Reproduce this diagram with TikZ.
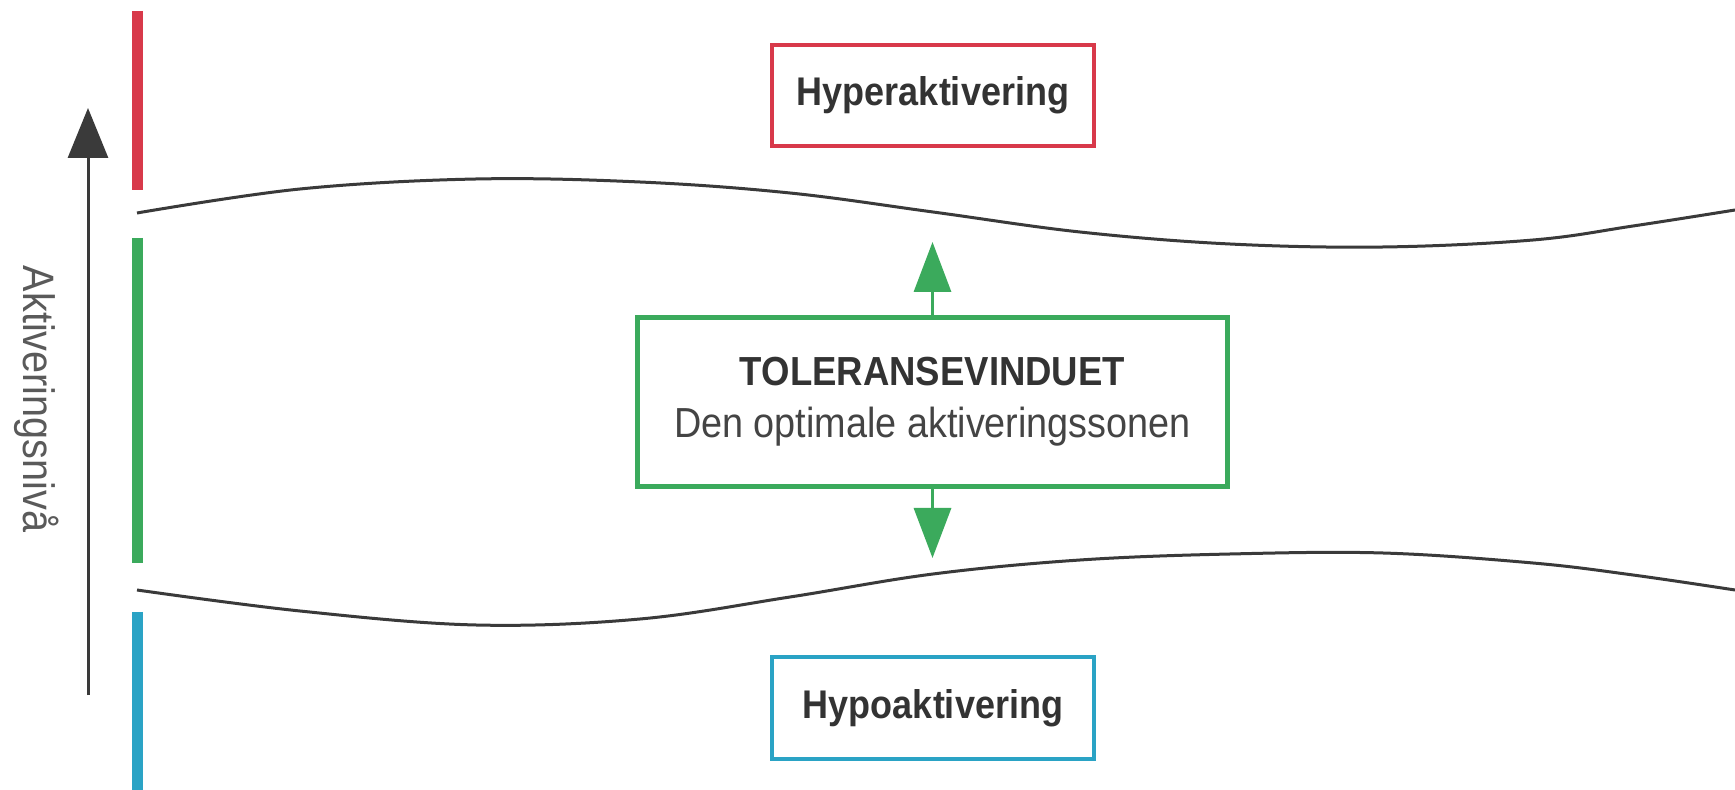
\documentclass[tikz,border=0pt]{standalone}
\usepackage{fontspec}
\setmainfont{Liberation Sans}[FakeStretch=0.9]
\usetikzlibrary{arrows.meta}
\definecolor{cred}{HTML}{D8394A}
\definecolor{cgreen}{HTML}{3BAA5C}
\definecolor{cblue}{HTML}{2AA3C5}
\definecolor{ctext}{HTML}{333333}
\definecolor{csub}{HTML}{444444}
\definecolor{cline}{HTML}{3A3A3A}
\definecolor{cgray}{HTML}{5A5A5A}
\begin{document}
\begin{tikzpicture}[x=0.5pt,y=-0.5pt,
  bar/.style={line width=5.5pt},
  labelbox/.style={draw, line width=2pt, minimum width=161pt, minimum height=50.5pt, inner sep=0pt, fill=white, text=ctext, font=\fontsize{20}{24}\selectfont\bfseries},
  wave/.style={cline, line width=1.5pt},
  greenarrow/.style={cgreen, line width=1.6pt, -{Triangle[width=18.5pt,length=25pt]}},
  axisarrow/.style={cline, line width=1.5pt, -{Triangle[width=20pt,length=25pt]}},
]
\useasboundingbox (0,0) rectangle (1735,790);
\fill[white] (0,0) rectangle (1735,790);

% colour bars
\draw[bar, cred] (137.5,11) -- (137.5,190);
\draw[bar, cgreen] (137.5,238) -- (137.5,563);
\draw[bar, cblue] (137.5,612) -- (137.5,790);

% axis arrow and label
\coordinate (axisstart) at (88,695);
\coordinate (axisend) at (88,108);
\draw[axisarrow] (axisstart) -- (axisend);
\node[rotate=-90, text=cgray, inner sep=0pt, font=\fontsize{22}{26}\selectfont] (axislabel) at (37,399) {Aktiveringsnivå};

% waves
\draw[wave] plot[smooth, tension=0.6] coordinates {(137,213) (300,189) (476,179) (640,182) (790,193) (933,212) (1080,232) (1230,244) (1383,247) (1533,240) (1633,226) (1735,210)};
\draw[wave] plot[smooth, tension=0.6] coordinates {(137,590) (300,611) (476,625) (640,619) (790,597) (933,574) (1080,560) (1230,554) (1383,553) (1533,563) (1633,575) (1735,590)};

% boxes
\node[labelbox, draw=cred] (hyper) at (933,95.5) {Hyperaktivering};
\node[labelbox, draw=cblue] (hypo) at (933,708) {Hypoaktivering};
\node[draw=cgreen, line width=2.2pt, fill=white, minimum width=295pt, minimum height=84.5pt, inner sep=0pt, align=center, text=ctext, font=\fontsize{21}{26}\selectfont] (tol) at (932.5,402)
  {{\fontsize{20.3}{24}\selectfont\bfseries TOLERANSEVINDUET}\\{\color{csub}Den optimale aktiveringssonen}};

% green arrows
\coordinate (uptip) at (932.5,242);
\coordinate (downtip) at (932.5,558);
\draw[greenarrow] (tol.north) -- (uptip);
\draw[greenarrow] (tol.south) -- (downtip);
\end{tikzpicture}
\end{document}
